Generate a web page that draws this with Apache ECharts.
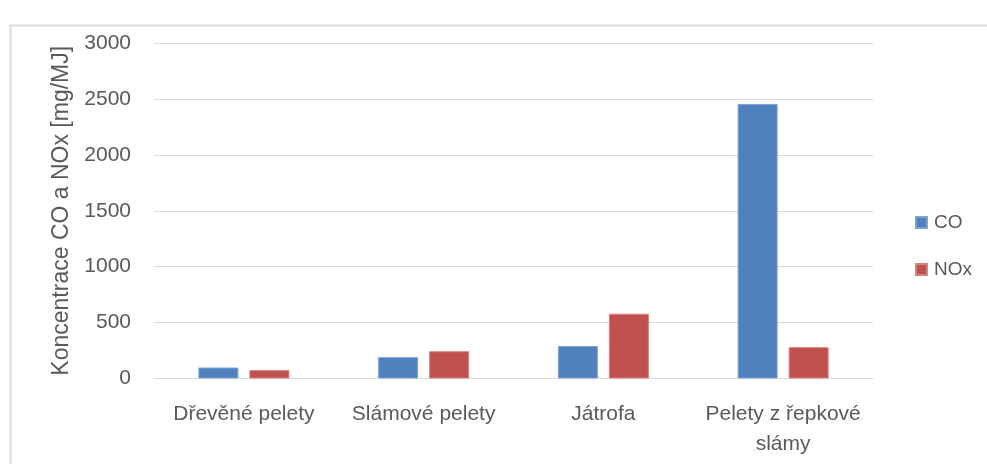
<!DOCTYPE html>
<html>
<head>
<meta charset="utf-8">
<script src="https://cdn.jsdelivr.net/npm/echarts@6/dist/echarts.min.js"></script>
<style>
  html, body { margin: 0; padding: 0; background: #fff; }
  #chart { width: 987px; height: 464px; }
</style>
</head>
<body>
<div id="chart"></div>
<script>
// Emissions of CO and NOx for four fuel types
const categories = ['Dřevěné pelety', 'Slámové pelety', 'Játrofa', 'Pelety z řepkové\nslámy'];
const coValues = [98, 191, 291, 2455];
const noxValues = [75, 244, 579, 280];
const seriesNames = ['CO', 'NOx'];
const yTicks = { min: 0, max: 3000, interval: 500 };

const FONT = 'Liberation Sans';
const TEXT = '#595959';
const GRID = '#d9d9d9';

const chart = echarts.init(document.getElementById('chart'), null, { renderer: 'canvas' });

chart.setOption({
  backgroundColor: '#fff',
  animation: false,
  textStyle: { fontFamily: FONT, color: TEXT },
  graphic: [{
    type: 'rect',
    left: 8, top: 23,
    shape: { width: 1200, height: 600 },
    style: { fill: 'none', stroke: GRID, lineWidth: 2 },
    silent: true
  }],
  grid: { left: 154, right: 114, top: 43, bottom: 85.5 },
  legend: {
    orient: 'vertical',
    left: 910, top: 208,
    itemWidth: 11, itemHeight: 11,
    itemGap: 28,
    icon: 'rect',
    textStyle: { fontFamily: FONT, fontSize: 19, color: TEXT, padding: [0, 0, 0, 2] },
    data: seriesNames
  },
  xAxis: {
    type: 'category',
    data: categories,
    axisLine: { show: true, lineStyle: { color: GRID, width: 1 } },
    axisTick: { show: false },
    axisLabel: {
      fontFamily: FONT, fontSize: 21, color: TEXT,
      margin: 21, lineHeight: 30, interval: 0
    }
  },
  yAxis: {
    type: 'value',
    min: yTicks.min, max: yTicks.max, interval: yTicks.interval,
    name: 'Koncentrace CO a NOx [mg/MJ]',
    nameLocation: 'middle',
    nameGap: 76,
    nameTextStyle: { fontFamily: FONT, fontSize: 23, color: TEXT },
    axisLine: { show: false },
    axisTick: { show: false },
    axisLabel: {
      fontFamily: FONT, fontSize: 21, color: TEXT, margin: 23,
      formatter: v => String(v)
    },
    splitLine: { lineStyle: { color: GRID, width: 1 } }
  },
  series: [
    {
      name: seriesNames[0], type: 'bar', data: coValues,
      barWidth: 40, barGap: '27.5%',
      itemStyle: { color: '#4f81bd', borderColor: '#7fa3d1', borderWidth: 1 }
    },
    {
      name: seriesNames[1], type: 'bar', data: noxValues,
      barWidth: 40,
      itemStyle: { color: '#c0504d', borderColor: '#d9827f', borderWidth: 1 }
    }
  ]
});
</script>
</body>
</html>
